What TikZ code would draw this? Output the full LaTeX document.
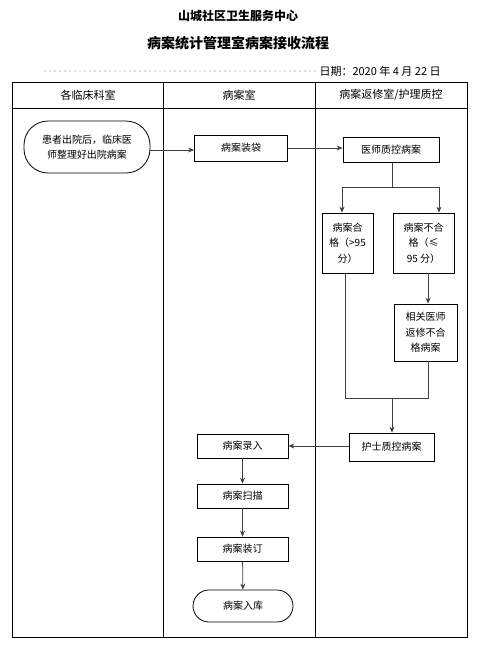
\documentclass[tikz,border=0pt]{standalone}
\usepackage{fontspec}
\setmainfont{Noto Sans CJK SC}
\usetikzlibrary{positioning,arrows.meta}

\tikzset{
  flowbox/.style={draw, thick, rectangle, inner sep=2pt, font=\fontsize{10}{15.5}\selectfont, align=center},
  termbox/.style={flowbox, rounded corners=13pt},
  flowline/.style={thick, draw=black!75},
  flowarrow/.style={flowline, -{Stealth[length=6pt,width=5pt]}}
}

\begin{document}
\begin{tikzpicture}[x=1pt, y=-1pt]
% page
\useasboundingbox (0,0) rectangle (478,646);

% titles
\node (title) at (238,16) {\fontsize{12}{14}\selectfont\bfseries 山城社区卫生服务中心};
\node (subtitle) at (238,43) {\fontsize{14}{16}\selectfont\bfseries 病案统计管理室病案接收流程};
\node[anchor=west] (date) at (316,71) {\fontsize{11}{13}\selectfont 日期：2020 年 4 月 22 日};
\draw[black!55, line width=1.4pt, line cap=round, dash pattern=on 0pt off 5pt] (45,71) -- (date.west);

% table
\draw (12,82) rectangle (467,637);
\draw (12,108) -- (467,108);
\draw (163,82) -- (163,637);
\draw (315,82) -- (315,637);
\node (head1) at (88,95) {\fontsize{11}{13}\selectfont 各临床科室};
\node (head2) at (239,95) {\fontsize{11}{13}\selectfont 病案室};
\node (head3) at (391,95) {\fontsize{11}{13}\selectfont 病案返修室/护理质控};

% boxes
\node[termbox, minimum width=126pt, minimum height=52pt, rounded corners=24pt] (discharge) at (87,147) {患者出院后，临床医\\师整理好出院病案};
\node[flowbox, minimum width=93pt, minimum height=26pt] (bagging) at (241,148) {病案装袋};
\node[flowbox, minimum width=96pt, minimum height=25pt] (doccheck) at (391,150) {医师质控病案};
\node[flowbox, minimum width=51pt, minimum height=60pt] (pass) at (347.5,243) {病案合\\格（>95\\分）};
\node[flowbox, minimum width=61pt, minimum height=60pt] (fail) at (423.5,243) {病案不合\\格（≤\\95 分）};
\node[flowbox, minimum width=63pt, minimum height=57pt] (repair) at (425.5,332.5) {相关医师\\返修不合\\格病案};
\node[flowbox, minimum width=85pt, minimum height=28pt] (nursecheck) at (391.5,447) {护士质控病案};
\node[flowbox, minimum width=91pt, minimum height=24pt] (entry) at (242.5,446) {病案录入};
\node[flowbox, minimum width=91pt, minimum height=24pt] (scan) at (242.5,496) {病案扫描};
\node[flowbox, minimum width=91pt, minimum height=24pt] (binding) at (242.5,549) {病案装订};
\node[termbox, minimum width=100pt, minimum height=32pt, rounded corners=16pt] (storage) at (243,606) {病案入库};

% connectors
\coordinate (split) at (392,187);
\coordinate (merge) at (392,398);
\draw[flowarrow] (discharge.east |- 0,150) -- (bagging.west |- 0,150);
\draw[flowarrow] (bagging.east) -- (doccheck.west |- bagging.east);
\draw[flowline] (doccheck.south -| split) -- (split);
\draw[flowarrow] (split) -| (pass.north -| 342,0);
\draw[flowarrow] (split) -| (fail.north -| 439,0);
\draw[flowarrow] (fail.south -| 428,0) -- (repair.north -| 428,0);
\draw[flowline] (pass.south -| 345,0) |- (428,398) -- (repair.south -| 428,0);
\draw[flowarrow] (merge) -- (nursecheck.north -| merge);
\draw[flowarrow] (nursecheck.west |- 0,446) -- (entry.east);
\draw[flowarrow] (entry) -- (scan);
\draw[flowarrow] (scan) -- (binding);
\draw[flowarrow] (binding) -- (storage);
\end{tikzpicture}
\end{document}
